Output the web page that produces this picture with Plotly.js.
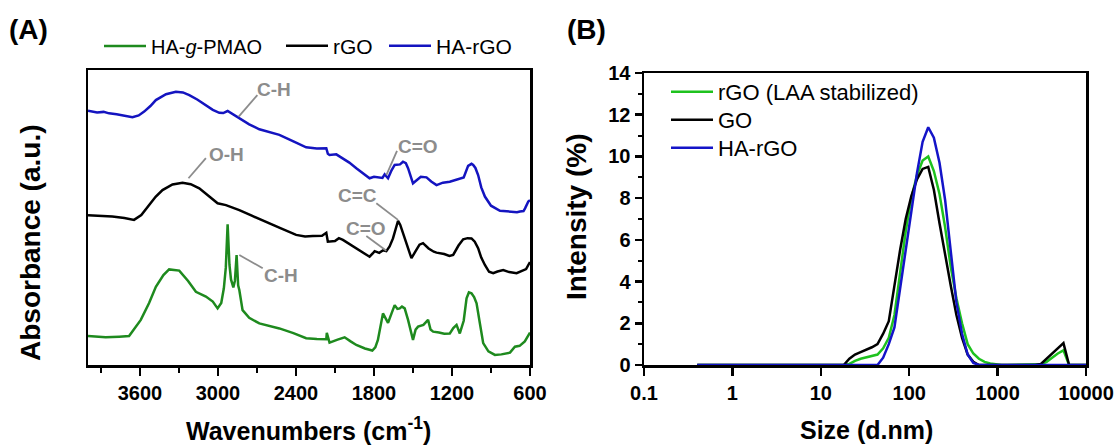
<!DOCTYPE html>
<html>
<head>
<meta charset="utf-8">
<script src="https://cdn.plot.ly/plotly-3.0.1.min.js"></script>
<style>
  html, body { margin: 0; padding: 0; background: #ffffff; }
  #chart { width: 1120px; height: 446px; }
</style>
</head>
<body>
<div id="chart"></div>
<script>
// ---------- Panel A: FTIR spectra (wavenumber, arbitrary absorbance units) ----------
const ftirSeriesNames = ["HA-<i>g</i>-PMAO", "rGO", "HA-rGO"];

const wnHAgPMAO = [4000, 3930, 3864, 3760, 3684, 3594, 3530, 3478, 3420, 3376, 3298, 3230, 3170, 3093, 3040, 3003, 2975, 2955, 2940, 2926, 2912, 2900, 2882, 2870, 2857, 2845, 2836, 2811, 2760, 2682, 2600, 2528, 2420, 2322, 2240, 2167, 2163, 2142, 2080, 2026, 1980, 1936, 1870, 1813, 1790, 1770, 1731, 1712, 1692, 1665, 1641, 1620, 1602, 1585, 1564, 1538, 1515, 1500, 1480, 1461, 1420, 1400, 1384, 1365, 1345, 1300, 1260, 1217, 1190, 1165, 1150, 1140, 1110, 1088, 1070, 1050, 1030, 1011, 985, 960, 920, 870, 820, 754, 716, 680, 640, 613, 600];
const absHAgPMAO = [9.8, 9.5, 9.4, 9.6, 9.8, 15.3, 21.0, 26.5, 30.5, 32.4, 32.0, 28.5, 24.8, 23.2, 21.5, 19.2, 21.0, 26.0, 33.0, 47.7, 34.0, 29.0, 26.3, 28.5, 37.3, 27.0, 25.4, 18.6, 16.0, 14.1, 13.2, 12.4, 10.8, 9.1, 8.8, 8.7, 10.9, 7.6, 8.6, 9.4, 8.0, 6.8, 5.6, 4.9, 6.0, 8.5, 17.5, 16.0, 14.3, 17.5, 20.3, 19.0, 19.2, 19.8, 19.2, 15.3, 11.0, 8.5, 12.0, 13.0, 13.6, 14.6, 15.3, 12.0, 11.3, 11.0, 10.6, 10.7, 12.5, 13.6, 12.0, 10.7, 15.0, 22.6, 24.6, 24.3, 23.0, 20.9, 14.0, 7.4, 4.6, 3.4, 3.6, 4.2, 6.2, 6.5, 8.0, 10.2, 11.0];

const wnRGO = [4000, 3900, 3813, 3720, 3646, 3590, 3530, 3480, 3427, 3350, 3273, 3210, 3144, 3070, 3003, 2939, 2900, 2836, 2740, 2630, 2520, 2399, 2330, 2271, 2200, 2167, 2155, 2100, 2070, 2039, 1990, 1936, 1880, 1834, 1810, 1795, 1760, 1730, 1705, 1680, 1654, 1630, 1615, 1598, 1577, 1545, 1512, 1480, 1450, 1423, 1380, 1340, 1319, 1260, 1220, 1191, 1150, 1114, 1080, 1050, 1025, 999, 975, 947, 915, 883, 850, 806, 760, 703, 660, 630, 613, 600];
const absRGO = [50.8, 50.6, 50.3, 49.8, 49.2, 50.8, 54.2, 57.0, 59.3, 61.2, 61.8, 61.3, 59.9, 57.3, 54.8, 54.2, 53.6, 52.5, 50.6, 48.6, 46.4, 44.1, 43.6, 43.7, 43.8, 44.8, 41.8, 42.0, 43.0, 42.4, 41.0, 39.6, 37.8, 36.7, 37.8, 38.6, 38.0, 38.9, 38.6, 40.2, 42.9, 46.5, 48.9, 47.5, 44.6, 40.0, 36.2, 38.6, 40.8, 41.3, 39.5, 38.4, 38.1, 37.6, 37.0, 37.3, 40.5, 42.6, 43.0, 42.9, 41.8, 39.6, 36.4, 33.9, 31.6, 31.1, 31.7, 32.2, 31.5, 31.1, 31.9, 32.5, 33.9, 34.9];

const wnHArGO = [4000, 3930, 3880, 3838, 3780, 3720, 3658, 3610, 3568, 3520, 3478, 3400, 3324, 3270, 3221, 3160, 3093, 3040, 2990, 2960, 2926, 2880, 2836, 2760, 2682, 2600, 2528, 2420, 2322, 2240, 2167, 2155, 2142, 2090, 2039, 1990, 1936, 1880, 1834, 1800, 1757, 1735, 1718, 1692, 1665, 1641, 1600, 1577, 1555, 1538, 1500, 1470, 1440, 1396, 1360, 1319, 1270, 1217, 1180, 1140, 1110, 1076, 1050, 1037, 1020, 999, 975, 947, 900, 831, 760, 700, 677, 650, 638, 613, 600];
const absHArGO = [86.2, 85.6, 85.8, 85.3, 85.0, 84.4, 84.0, 84.6, 85.9, 87.8, 89.8, 91.8, 92.6, 92.4, 91.5, 90.0, 88.1, 86.5, 85.5, 85.4, 86.1, 84.8, 83.6, 81.6, 79.9, 78.8, 78.0, 75.8, 73.8, 73.4, 73.5, 71.6, 71.2, 71.4, 70.1, 68.6, 66.7, 64.9, 63.3, 63.8, 63.6, 63.4, 64.6, 63.3, 66.0, 67.8, 68.0, 68.9, 68.4, 66.7, 61.6, 62.6, 63.8, 63.6, 62.2, 61.0, 61.8, 62.1, 62.6, 63.3, 63.6, 67.5, 68.2, 67.8, 66.8, 64.4, 60.2, 57.1, 54.0, 52.3, 52.0, 51.8, 52.0, 52.2, 53.1, 55.4, 55.9];

// Band labels: [text, tip wavenumber, tip value, line start wavenumber, line start value, text wavenumber, text value]
const bandLabels = [
  ["C-H", 2841, 84.2, 2697, 91.5, 2566, 93.5],
  ["C=O", 1705, 64.4, 1623, 72.6, 1461, 74.2],
  ["O-H", 3227, 63.3, 3093, 70.1, 2938, 71.4],
  ["C=C", 1615, 49.2, 1782, 54.8, 1924, 57.3],
  ["C=O", 1705, 38.7, 1859, 43.7, 1859, 46.3],
  ["C-H", 2836, 37.3, 2656, 32.8, 2514, 30.2]
];

const wnTickVals = [3600, 3000, 2400, 1800, 1200, 600];
const wnTickText = ["3600", "3000", "2400", "1800", "1200", "600"];

// ---------- Panel B: DLS intensity distributions ----------
const dlsSeriesNames = ["rGO (LAA stabilized)", "GO", "HA-rGO"];
const sizeNm = [0.4, 0.4632, 0.5365, 0.6213, 0.7195, 0.8332, 0.9649, 1.117, 1.294, 1.499,
  1.736, 2.01, 2.328, 2.696, 3.122, 3.615, 4.187, 4.849, 5.615, 6.503,
  7.531, 8.721, 10.1, 11.7, 13.54, 15.69, 18.17, 21.04, 24.36, 28.21,
  32.67, 37.84, 43.82, 50.75, 58.77, 68.06, 78.82, 91.28, 105.7, 122.4,
  141.8, 164.2, 190.1, 220.2, 255.0, 295.3, 342.0, 396.1, 458.7, 531.2,
  615.1, 712.4, 825.0, 955.4, 1106, 1281, 1484, 1718, 1990, 2305,
  2669, 3091, 3580, 4145, 4801, 5560, 6439, 7456, 8635, 10000];

const intensityRGO = [0, 0, 0, 0, 0, 0, 0, 0, 0, 0,
  0, 0, 0, 0, 0, 0, 0, 0, 0, 0,
  0, 0, 0, 0, 0, 0, 0, 0.05, 0.2, 0.3,
  0.37, 0.42, 0.5, 0.8, 1.3, 2.4, 4.4, 6.4, 8.0, 9.1,
  9.8, 10.0, 9.3, 8.2, 6.6, 4.7, 3.2, 2.0, 1.0, 0.55,
  0.3, 0.15, 0.07, 0.02, 0, 0, 0, 0, 0, 0,
  0, 0.03, 0.15, 0.35, 0.55, 0.7, 0, 0, 0, 0];

const intensityGO = [0, 0, 0, 0, 0, 0, 0, 0, 0, 0,
  0, 0, 0, 0, 0, 0, 0, 0, 0, 0,
  0, 0, 0, 0, 0, 0, 0, 0.3, 0.5, 0.62,
  0.72, 0.85, 1.0, 1.5, 2.1, 3.9, 5.5, 7.0, 8.1, 8.9,
  9.4, 9.5, 8.4, 6.8, 5.2, 3.8, 2.4, 1.3, 0.5, 0.15,
  0, 0, 0, 0, 0, 0, 0, 0, 0, 0,
  0, 0.05, 0.3, 0.55, 0.8, 1.05, 0, 0, 0, 0];

const intensityHArGO = [0, 0, 0, 0, 0, 0, 0, 0, 0, 0,
  0, 0, 0, 0, 0, 0, 0, 0, 0, 0,
  0, 0, 0, 0, 0, 0, 0, 0, 0, 0,
  0, 0, 0, 0.35, 1.0, 1.8, 3.6, 5.6, 7.4, 9.2,
  10.7, 11.4, 10.9, 9.7, 7.9, 5.4, 3.0, 1.5, 0.5, 0.1,
  0, 0, 0, 0, 0, 0, 0, 0, 0, 0,
  0, 0, 0, 0, 0, 0, 0, 0, 0, 0];

const sizeTickVals = [0.1, 1, 10, 100, 1000, 10000];
const sizeTickText = ["0.1", "1", "10", "100", "1000", "10000"];
const intensityTickVals = [0, 2, 4, 6, 8, 10, 12, 14];
const intensityTickText = ["0", "2", "4", "6", "8", "10", "12", "14"];

// ---------- styling ----------
const FONT = "Liberation Sans, Arial, Helvetica, sans-serif";
const W = 1120, H = 446;
const fx = p => p / W;           // pixel -> paper x
const fy = p => 1 - p / H;       // pixel -> paper y
const bold = arr => arr.map(s => "<b>" + s + "</b>");

const colA = ["#1e8a1e", "#000000", "#1414c0"];
const colB = ["#1ec21e", "#000000", "#1414c8"];

// legend placement (pixel x of legend box, pixel y of entry centre)
const legendPosA = [[99, 46], [281, 46], [384, 46]];
const legendPosB = [[666, 92], [666, 120], [666, 148]];

const traces = [];
const ftirX = [wnHAgPMAO, wnRGO, wnHArGO];
const ftirY = [absHAgPMAO, absRGO, absHArGO];
for (let i = 0; i < 3; i++) {
  traces.push({
    type: "scatter", mode: "lines", x: ftirX[i], y: ftirY[i],
    name: ftirSeriesNames[i], xaxis: "x", yaxis: "y",
    legend: i === 0 ? "legend" : "legend" + (i + 1),
    line: { color: colA[i], width: 2.5 }, hoverinfo: "skip"
  });
}
const dlsY = [intensityRGO, intensityGO, intensityHArGO];
for (let i = 0; i < 3; i++) {
  traces.push({
    type: "scatter", mode: "lines", x: sizeNm, y: dlsY[i],
    name: dlsSeriesNames[i], xaxis: "x2", yaxis: "y2", legend: "legend" + (i + 4),
    line: { color: colB[i], width: 2.5 }, hoverinfo: "skip"
  });
}

const tickFont = { family: FONT, size: 20, color: "#000", weight: "bold" };
const grey = "#8c8c8c";

function paperText(text, px, py, size, angle) {
  return { text: text, x: fx(px), y: fy(py), xref: "paper", yref: "paper",
    xanchor: "center", yanchor: "middle", textangle: angle || 0, showarrow: false,
    font: { family: FONT, size: size, color: "#000" } };
}

const annotations = [
  paperText("<b>(A)</b>", 28, 30, 28),
  paperText("<b>(B)</b>", 586, 30, 28),
  paperText("<b>Wavenumbers (cm<sup>-1</sup>)</b>", 308, 429, 25),
  paperText("<b>Size (d.nm)</b>", 866, 430, 25),
  paperText("<b>Absorbance (a.u.)</b>", 30, 243, 28, -90),
  paperText("<b>Intensity (%)</b>", 577, 217, 28, -90)
];
const shapes = [];
bandLabels.forEach(b => {
  annotations.push({ text: "<b>" + b[0] + "</b>", x: b[5], y: b[6], xref: "x", yref: "y",
    xanchor: "center", yanchor: "middle", showarrow: false,
    font: { family: FONT, size: 19, color: grey } });
  shapes.push({ type: "line", xref: "x", yref: "y", x0: b[3], y0: b[4], x1: b[1], y1: b[2], line: { color: grey, width: 1.8 } });
});

function legendAt(pos, size) {
  return { orientation: "v", x: fx(pos[0]), y: fy(pos[1]), xanchor: "left", yanchor: "middle",
    itemwidth: 42, font: { family: FONT, size: size, color: "#000" }, bgcolor: "rgba(0,0,0,0)" };
}

const layout = {
  width: W, height: H,
  margin: { l: 0, r: 0, t: 0, b: 0 },
  paper_bgcolor: "#fff", plot_bgcolor: "#fff",
  font: { family: FONT, color: "#000" },
  showlegend: true,
  xaxis: {
    domain: [fx(88), fx(530)], range: [4000, 600], anchor: "y",
    showgrid: false, zeroline: false, showline: true, mirror: true, linecolor: "#000", linewidth: 2.5,
    ticks: "outside", ticklen: 8, tickwidth: 2, tickcolor: "#000",
    tickvals: wnTickVals, ticktext: bold(wnTickText), tickfont: tickFont,
    minor: { dtick: 300, tick0: 600, ticks: "outside", ticklen: 5, tickwidth: 2, tickcolor: "#000" }
  },
  yaxis: {
    domain: [fy(365), fy(70)], range: [0, 100], anchor: "x",
    showgrid: false, zeroline: false, showline: true, mirror: true, linecolor: "#000", linewidth: 2.5,
    ticks: "", showticklabels: false
  },
  xaxis2: {
    domain: [fx(644), fx(1086)], type: "log", range: [-1, 4], anchor: "y2",
    showgrid: false, zeroline: false, showline: true, mirror: true, linecolor: "#000", linewidth: 2.5,
    ticks: "outside", ticklen: 8, tickwidth: 2.5, tickcolor: "#000",
    tickvals: sizeTickVals, ticktext: bold(sizeTickText), tickfont: tickFont
  },
  yaxis2: {
    domain: [fy(365), fy(73)], range: [0, 14], anchor: "x2",
    showgrid: false, zeroline: false, showline: true, mirror: true, linecolor: "#000", linewidth: 2.5,
    ticks: "outside", ticklen: 7, tickwidth: 2.5, tickcolor: "#000",
    tickvals: intensityTickVals, ticktext: bold(intensityTickText), tickfont: tickFont,
    minor: { dtick: 1, tick0: 0, ticks: "outside", ticklen: 4, tickwidth: 2, tickcolor: "#000" }
  },
  legend: legendAt(legendPosA[0], 20),
  legend2: legendAt(legendPosA[1], 21),
  legend3: legendAt(legendPosA[2], 21),
  legend4: legendAt(legendPosB[0], 22),
  legend5: legendAt(legendPosB[1], 22),
  legend6: legendAt(legendPosB[2], 22),
  annotations: annotations,
  shapes: shapes
};

Plotly.newPlot("chart", traces, layout, { displayModeBar: false, staticPlot: true });
</script>
</body>
</html>
